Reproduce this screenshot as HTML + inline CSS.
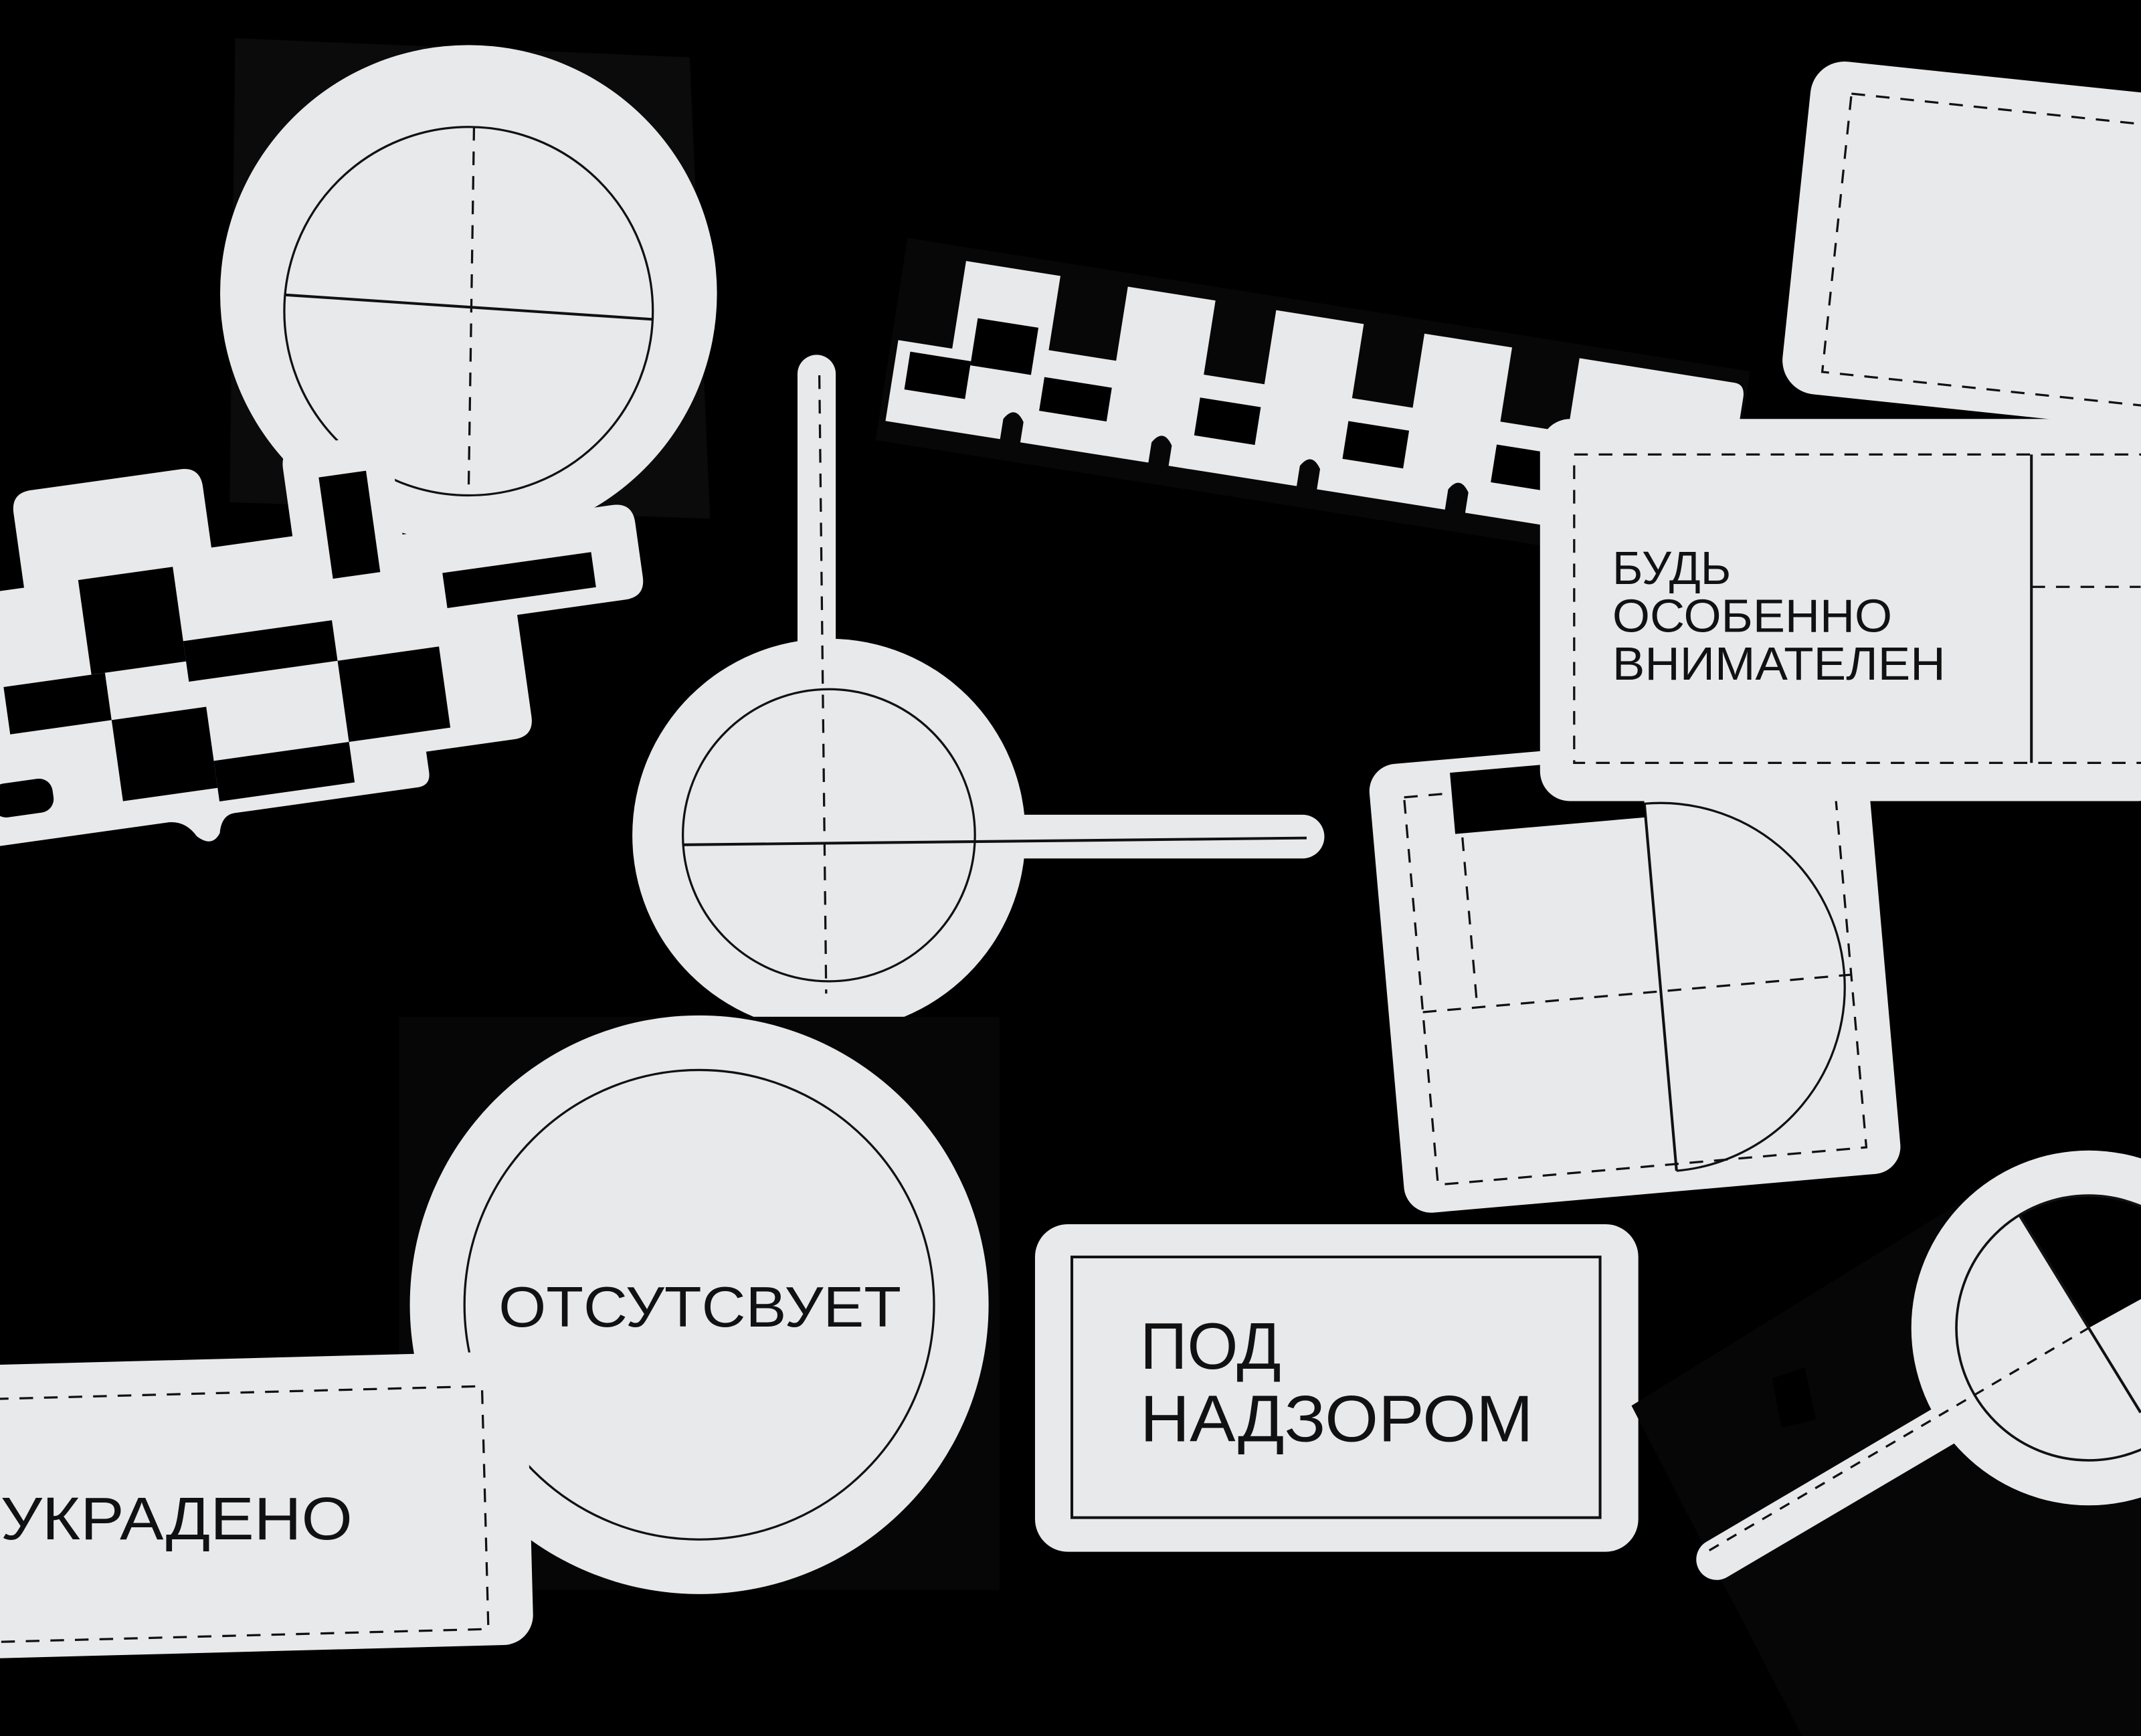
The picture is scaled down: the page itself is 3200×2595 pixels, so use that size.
<!DOCTYPE html>
<html><head><meta charset="utf-8"><style>
html,body{margin:0;padding:0;background:#000;}
svg{display:block}
text{font-family:"Liberation Sans","Noto Sans CJK SC",sans-serif;fill:#111;}
</style></head><body>
<svg width="3200" height="2595" viewBox="0 0 1568 1272" xmlns="http://www.w3.org/2000/svg">
<rect width="1568" height="1272" fill="#000"/>
<g fill="#e8e9eb" stroke="none">

<!-- top-left circle sticker -->
<polygon points="172,28 505,42 520,380 168,368" fill="#0b0b0b"/>
<circle cx="343" cy="215" r="182"/>
<g fill="none" stroke="#111">
<circle cx="343" cy="228" r="135" stroke-width="1.6"/>
<line x1="208" y1="216" x2="478" y2="234" stroke-width="2"/>
<line x1="347" y1="93" x2="343" y2="362" stroke-width="1.6" stroke-dasharray="10,8"/>
</g>

<!-- left checker sticker -->
<g transform="rotate(-8 240 470)">
<path d="M-20,400 L25,400 L25,345 Q25,330 40,330 L150,330 Q165,330 165,345 L165,390 L225,390 L225,340 Q225,325 240,325 L290,325 Q305,325 305,340 L305,400 L460,400 Q475,400 475,415 L475,455 Q475,470 460,470 L380,470 L380,545 Q380,560 365,560 L300,560 L300,575 Q300,585 290,585 L155,585 Q145,585 142,598 Q135,608 125,598 Q118,585 105,585 L-20,585 Z"/>
<g fill="#000">
<rect x="65" y="400" width="70" height="70"/>
<rect x="250" y="350" width="35" height="75"/>
<rect x="330" y="432" width="110" height="26"/>
<rect x="0" y="470" width="75" height="35"/>
<rect x="135" y="455" width="110" height="30"/>
<rect x="75" y="505" width="70" height="60"/>
<rect x="245" y="485" width="75" height="60"/>
<rect x="145" y="545" width="100" height="30"/>
<rect x="-20" y="540" width="45" height="25" rx="10"/>
</g>
</g>

<!-- zigzag strip -->
<g transform="translate(668,185) rotate(9)">
<rect x="-5" y="-10" width="625" height="150" fill="#070707"/>
<path d="M0,65 L40,65 L40,0 L110,0 L110,55 L160,55 L160,0 L225,0 L225,55 L270,55 L270,0 L335,0 L335,55 L380,55 L380,0 L445,0 L445,55 L495,55 L495,0 L610,0 Q618,0 618,10 L618,125 L540,125 L540,110 Q532,98 525,110 L525,125 L430,125 L430,110 Q422,98 415,110 L415,125 L320,125 L320,110 Q312,98 305,110 L305,125 L210,125 L210,110 Q202,98 195,110 L195,125 L100,125 L100,110 Q92,98 85,110 L85,125 L0,125 Z"/>
<g fill="#000">
<rect x="55" y="40" width="45" height="35"/>
<rect x="10" y="72" width="45" height="28"/>
<rect x="110" y="75" width="50" height="25"/>
<rect x="225" y="72" width="45" height="28"/>
<rect x="335" y="72" width="45" height="28"/>
<rect x="445" y="72" width="50" height="28"/>
<rect x="555" y="55" width="60" height="45"/>
</g>
</g>

<!-- central crosshair sticker -->
<rect x="584" y="260" width="28" height="230" rx="14"/>
<rect x="720" y="597" width="250" height="32" rx="16"/>
<circle cx="607" cy="612" r="144"/>
<g fill="none" stroke="#111">
<circle cx="607" cy="612" r="107" stroke-width="1.6"/>
<line x1="500" y1="619" x2="957" y2="614" stroke-width="2"/>
<line x1="600" y1="275" x2="605" y2="728" stroke-width="1.6" stroke-dasharray="10,8"/>
</g>

<!-- top right card -->
<g transform="rotate(6 1440 180)">
<rect x="1315" y="55" width="280" height="245" rx="25"/>
<rect x="1345" y="78" width="260" height="205" fill="none" stroke="#111" stroke-width="1.6" stroke-dasharray="10,8"/>
</g>

<!-- square card with half circle -->
<g transform="rotate(-5 1197 710)">
<rect x="1015" y="545" width="365" height="330" rx="20"/>
<g fill="none" stroke="#111">
<rect x="1040" y="570" width="315" height="285" stroke-width="1.6" stroke-dasharray="10,8"/>
<path d="M1215,590 A135,135 0 0 1 1215,860" stroke-width="1.6"/>
<line x1="1215" y1="590" x2="1215" y2="860" stroke-width="2"/>
<line x1="1040" y1="728" x2="1355" y2="728" stroke-width="1.6" stroke-dasharray="10,8"/>
<line x1="1080" y1="603" x2="1080" y2="728" stroke-width="1.6" stroke-dasharray="10,8"/>
</g>
<rect x="1075" y="555" width="140" height="45" fill="#000"/>
</g>

<!-- attentive card -->
<rect x="1128" y="307" width="460" height="280" rx="22"/>
<g fill="none" stroke="#111">
<rect x="1153" y="333" width="440" height="226" stroke-width="1.6" stroke-dasharray="10,8"/>
<line x1="1488" y1="333" x2="1488" y2="559" stroke-width="2"/>
<line x1="1488" y1="430" x2="1568" y2="430" stroke-width="1.6" stroke-dasharray="10,8"/>
</g>
<text x="1181" y="428" font-size="34">БУДЬ</text>
<text x="1181" y="463" font-size="34" textLength="205" lengthAdjust="spacingAndGlyphs">ОСОБЕННО</text>
<text x="1181" y="498" font-size="34" textLength="244" lengthAdjust="spacingAndGlyphs">ВНИМАТЕЛЕН</text>

<!-- ОТСУТСВУЕТ circle -->
<rect x="292" y="745" width="440" height="420" fill="#060606"/>
<circle cx="512" cy="956" r="212"/>
<circle cx="512" cy="956" r="172" fill="none" stroke="#111" stroke-width="1.6"/>
<text x="365" y="972" font-size="42" textLength="295" lengthAdjust="spacingAndGlyphs">ОТСУТСВУЕТ</text>

<!-- ПОД НАДЗОРОМ -->
<rect x="758" y="897" width="442" height="240" rx="24"/>
<rect x="785" y="921" width="387" height="191" fill="none" stroke="#111" stroke-width="2"/>
<text x="835" y="1003" font-size="48">ПОД</text>
<text x="835" y="1056" font-size="48" textLength="288" lengthAdjust="spacingAndGlyphs">НАДЗОРОМ</text>

<!-- УКРАДЕНО card -->
<g transform="rotate(-1.5 190 1100)">
<rect x="-30" y="995" width="418" height="215" rx="22"/>
<rect x="-20" y="1020" width="375" height="178" fill="none" stroke="#111" stroke-width="1.6" stroke-dasharray="10,8"/>
</g>
<text x="0" y="1128" font-size="44" textLength="258" lengthAdjust="spacingAndGlyphs">УКРАДЕНО</text>

<!-- magnifier -->
<polygon points="1195,1030 1470,860 1568,870 1568,1272 1320,1272" fill="#060606"/>
<polygon points="1298,1010 1322,1002 1330,1040 1305,1046" fill="#000"/>
<g transform="rotate(-30.5 1335 1097)">
<rect x="1230" y="1082" width="230" height="30" rx="15"/>
</g>
<circle cx="1530" cy="973" r="130"/>
<path d="M1530,973 L1479,890 A97,97 0 0 1 1615,926 Z" fill="#000"/>
<g fill="none" stroke="#111">
<circle cx="1530" cy="973" r="97" stroke-width="1.8"/>
<line x1="1252" y1="1136" x2="1530" y2="973" stroke-width="1.6" stroke-dasharray="8,7"/>
<line x1="1479" y1="890" x2="1568" y2="1035" stroke-width="2"/>
</g>
</g>
</svg>
</body></html>
